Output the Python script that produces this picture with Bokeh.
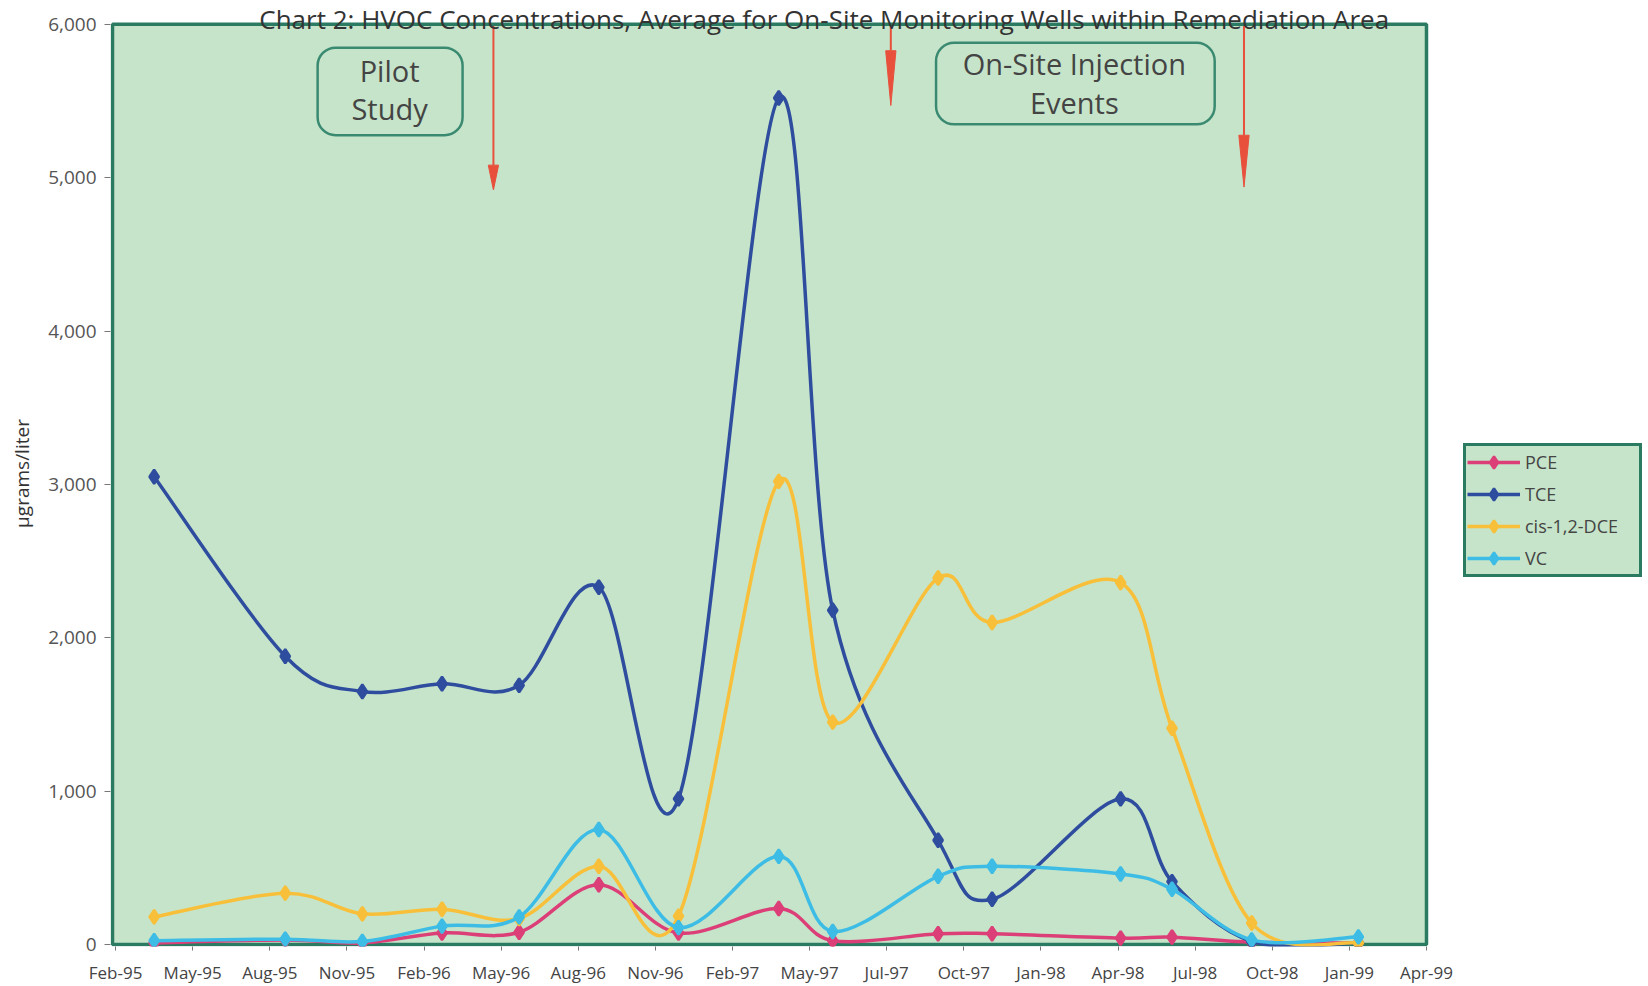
import numpy as np
from bokeh.plotting import figure
from bokeh.models import (Legend, LegendItem, Label, BoxAnnotation, FixedTicker,
                          NumeralTickFormatter, Range1d, ColumnDataSource)
from bokeh.embed import file_html
from bokeh.resources import INLINE

# ---------------- data ----------------
tick_labels = ["Feb-95", "May-95", "Aug-95", "Nov-95", "Feb-96", "May-96", "Aug-96", "Nov-96",
               "Feb-97", "May-97", "Jul-97", "Oct-97", "Jan-98", "Apr-98", "Jul-98", "Oct-98",
               "Jan-99", "Apr-99"]
tick_months = [0, 3, 6, 9, 12, 15, 18, 21, 24, 27, 30, 33, 36, 39, 42, 45, 48, 51]
y_ticks = [0, 1000, 2000, 3000, 4000, 5000, 6000]

# sampling times, months after Feb-95
sample_month = [1.5, 6.6, 9.6, 12.7, 15.7, 18.8, 21.9, 25.8, 27.9, 32.0, 34.1, 39.1, 41.1, 44.2, 48.35]
pce = [10, 30, 10, 75, 80, 390, 75, 235, 25, 70, 70, 42, 48, 15, 10]
tce = [3050, 1880, 1650, 1700, 1690, 2330, 950, 5520, 2180, 680, 295, 950, 410, 20, 10]
dce = [180, 335, 200, 230, 170, 510, 185, 3020, 1450, 2390, 2100, 2360, 1410, 140, 10]
vc = [25, 35, 20, 120, 180, 750, 110, 575, 85, 445, 510, 460, 360, 30, 50]

series_names = ["PCE", "TCE", "cis-1,2-DCE", "VC"]
series_values = [pce, tce, dce, vc]
series_colors = ["#dc3f78", "#2f4d9e", "#f8c03a", "#3dbde6"]

TITLE = "Chart 2:  HVOC Concentrations, Average for On-Site Monitoring Wells within Remediation Area"
FONT = "Open Sans"
BG = "#c6e4c9"
DARK = "#2b7b63"

X_MIN, X_MAX = -0.12, 51.0      # extent of the green plotting area (months)
Y_MIN, Y_MAX = 0, 6000


def smooth_segments(xs, ys):
    n = len(xs)
    d = dict(x0=[], y0=[], x1=[], y1=[], cx0=[], cy0=[], cx1=[], cy1=[])
    for i in range(n - 1):
        a = max(i - 1, 0)
        b = min(i + 2, n - 1)
        d["x0"].append(xs[i]); d["y0"].append(ys[i])
        d["x1"].append(xs[i + 1]); d["y1"].append(ys[i + 1])
        d["cx0"].append(xs[i] + (xs[i + 1] - xs[a]) / 6.0)
        d["cy0"].append(ys[i] + (ys[i + 1] - ys[a]) / 6.0)
        d["cx1"].append(xs[i + 1] - (xs[b] - xs[i]) / 6.0)
        d["cy1"].append(ys[i + 1] - (ys[b] - ys[i]) / 6.0)
    return d


# frame: canvas x 110..1648, y 0..951 ; green plotting box drawn inside it
PX_PER_MONTH = 25.704
UNITS_PER_PX = 6.486
p = figure(width=1648, height=986, output_backend="svg", toolbar_location=None,
           x_range=Range1d(X_MIN - 2 / PX_PER_MONTH, X_MIN + 1536 / PX_PER_MONTH),
           y_range=Range1d(Y_MIN - 2 * UNITS_PER_PX, Y_MAX + 24 * UNITS_PER_PX),
           min_border_left=110, min_border_right=0, min_border_top=0, min_border_bottom=35)

p.background_fill_color = "white"
p.border_fill_color = "white"
p.outline_line_color = None
p.xgrid.visible = False
p.ygrid.visible = False

# green plotting area with its dark frame
p.add_layout(BoxAnnotation(left=X_MIN, right=X_MAX, bottom=Y_MIN, top=Y_MAX, level="underlay",
                           fill_color=BG, fill_alpha=1.0, line_color=DARK, line_alpha=1.0,
                           line_width=3.5))

# axes
p.xaxis.ticker = FixedTicker(ticks=tick_months)
p.xaxis.major_label_overrides = {m: l for m, l in zip(tick_months, tick_labels)}
p.yaxis.ticker = FixedTicker(ticks=y_ticks)
p.yaxis.formatter = NumeralTickFormatter(format="0,0")
for ax in (p.xaxis, p.yaxis):
    ax.axis_line_color = None
    ax.minor_tick_line_color = None
    ax.major_tick_in = 0
    ax.major_tick_line_color = "#777777"
    ax.major_label_text_font = FONT
p.xaxis.major_tick_out = 4
p.xaxis.major_label_standoff = 10
p.xaxis.major_label_text_font_size = "17px"
p.xaxis.major_label_text_color = "#444444"
p.yaxis.major_tick_out = 6
p.yaxis.major_label_standoff = 8
p.yaxis.major_label_text_font_size = "19px"
p.yaxis.major_label_text_color = "#555555"
p.yaxis.axis_label = "µgrams/liter"
p.yaxis.axis_label_text_font = FONT
p.yaxis.axis_label_text_font_size = "19px"
p.yaxis.axis_label_text_font_style = "normal"
p.yaxis.axis_label_text_color = "#333333"
p.yaxis.axis_label_standoff = 10

# series
items = []
for name, vals, col in zip(series_names, series_values, series_colors):
    src = ColumnDataSource(smooth_segments(sample_month, vals))
    r_line = p.bezier(x0="x0", y0="y0", x1="x1", y1="y1", cx0="cx0", cy0="cy0",
                      cx1="cx1", cy1="cy1", source=src, line_color=col, line_width=3.5)
    r_pts = p.scatter(sample_month, vals, marker="diamond", size=14,
                      fill_color=col, line_color=col, line_width=2.5)
    items.append(LegendItem(label=name, renderers=[r_line, r_pts]))

legend = Legend(items=items, location=(1353, 369), orientation="vertical",
                background_fill_color=BG, background_fill_alpha=1.0,
                border_line_color=DARK, border_line_width=3, border_line_alpha=1.0,
                label_text_font=FONT, label_text_font_size="18px", label_text_color="#444444",
                glyph_width=53, glyph_height=30, spacing=2, padding=1, margin=0,
                label_standoff=5, label_width=113)
p.add_layout(legend)

# annotation boxes
for l, r, t, b in [(7.86, 13.5, 5848, 5277), (31.92, 42.76, 5880, 5348)]:
    p.add_layout(BoxAnnotation(left=l, right=r, top=t, bottom=b,
                               fill_alpha=0, line_color="#3a8a72", line_alpha=1.0,
                               line_width=2.5, border_radius=18))
for txt, x, y in [("Pilot", 10.66, 5702), ("Study", 10.66, 5452),
                  ("On-Site Injection", 37.3, 5744), ("Events", 37.3, 5490)]:
    p.add_layout(Label(x=x, y=y, text=txt, text_align="center", text_baseline="middle",
                       text_font=FONT, text_font_size="29px", text_color="#444444"))

# red arrows
arrow_x = [14.7, 30.16, 43.9]
arrow_head_top = [5082, 5828, 5277]
arrow_tip = [4920, 5471, 4939]
RED = "#e8503c"
p.segment(x0=arrow_x, y0=[5990] * 3, x1=arrow_x, y1=arrow_head_top,
          line_color=RED, line_width=2)
hw = 0.2
p.patches(xs=[[x - hw, x + hw, x] for x in arrow_x],
          ys=[[t, t, b] for t, b in zip(arrow_head_top, arrow_tip)],
          fill_color=RED, line_color=RED, line_width=1)

# title
p.add_layout(Label(x=27.7, y=6032, text=TITLE, text_align="center", text_baseline="alphabetic",
                   text_font=FONT, text_font_size="26px", text_color="#333333"))

open("out.html", "w").write(file_html(p, INLINE))
